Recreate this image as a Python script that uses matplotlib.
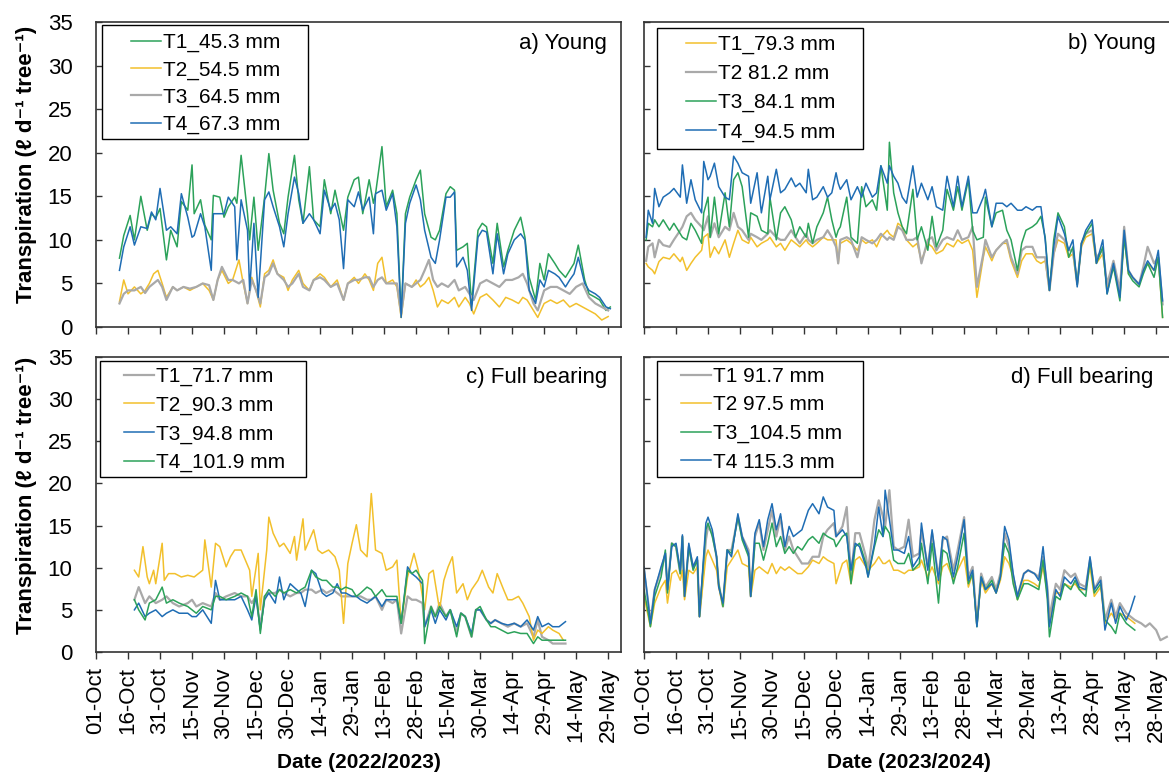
import numpy as np
import pandas as pd
import matplotlib
matplotlib.use("Agg")
import matplotlib.pyplot as plt
from matplotlib.patches import Rectangle

plt.rcParams['font.family'] = ['Liberation Sans', 'DejaVu Sans']

# ---- colours used in the original figure
GREEN = '#2ca25a'
YELLOW = '#f2c02c'
GREY = '#a9a9a9'
BLUE = '#1f6db4'

# ---------------- a) Young, 2022/2023 (days after 01-Oct-2022)
days_a14 = [11, 13, 16, 18, 21, 24, 26, 28, 30, 33, 35, 38, 40, 43, 45, 46, 49, 51, 54, 55,
            58, 60, 62, 65, 66, 68, 71, 72, 74, 76, 79, 81, 83, 86, 88, 90, 93, 95, 97, 100,
            102, 105, 107, 110, 112, 114, 116, 118, 121, 123, 125, 128, 130, 131, 134, 136, 139, 141, 143, 145,
            147, 150, 152, 154, 157, 159, 161, 164, 166, 168, 169, 172, 174, 176, 179, 181, 183, 186, 188, 191,
            193, 196, 199, 201, 203, 206, 208, 210, 212, 215, 217, 220, 222, 224, 226, 229, 231, 234, 236, 239, 241]
a_t1 = [7.9, 10.5, 12.8, 10.0, 15.0, 11.1, 13.0, 12.5, 13.6, 7.7, 11.1, 9.2, 14.4, 13.4, 18.6, 13.0, 14.6, 11.7, 10.0, 15.1,
        14.9, 12.6, 13.8, 14.9, 14.2, 19.7, 13.0, 10.0, 14.9, 8.8, 14.9, 19.9, 15.7, 11.9, 10.7, 14.9, 19.7, 14.6, 11.9, 18.4,
        12.3, 11.5, 16.9, 13.0, 15.7, 13.4, 11.1, 14.9, 16.9, 17.2, 13.0, 16.9, 14.2, 15.3, 20.7, 13.8, 15.7, 13.0, 1.1, 13.0,
        14.9, 16.9, 18.0, 13.0, 10.3, 10.0, 11.1, 15.3, 16.1, 15.7, 8.8, 9.2, 9.6, 2.6, 11.1, 11.9, 11.5, 7.3, 11.9, 6.9,
        8.8, 11.1, 12.6, 10.3, 5.7, 3.1, 7.3, 5.4, 8.4, 7.3, 6.5, 5.7, 6.5, 7.3, 9.4, 5.4, 3.8, 3.4, 3.1, 1.9, 2.3]
a_t4 = [6.5, 9.2, 11.5, 9.4, 11.5, 11.3, 13.2, 12.3, 15.9, 11.1, 11.5, 10.7, 15.3, 12.6, 10.3, 10.5, 13.0, 11.5, 6.5, 13.0,
        13.0, 13.0, 14.9, 13.8, 7.7, 14.6, 11.1, 4.2, 11.9, 3.4, 14.6, 15.5, 13.8, 11.5, 9.2, 13.0, 17.2, 15.3, 11.9, 13.0,
        12.3, 10.7, 15.7, 13.4, 14.2, 12.3, 6.7, 14.6, 13.8, 15.5, 13.4, 14.9, 10.7, 15.3, 15.7, 13.4, 15.3, 11.5, 1.1, 11.9,
        14.2, 16.3, 14.6, 11.1, 8.0, 7.3, 10.0, 14.9, 14.9, 15.5, 6.9, 8.0, 6.5, 1.9, 10.3, 11.1, 10.9, 6.1, 10.7, 6.1,
        8.4, 10.0, 10.7, 10.0, 4.2, 2.7, 5.4, 4.6, 6.5, 6.1, 5.7, 4.6, 5.4, 6.1, 8.0, 5.0, 4.2, 3.8, 3.4, 2.3, 2.1]
days_a23 = [11, 13, 15, 18, 21, 23, 25, 27, 29, 31, 33, 36, 38, 41, 44, 47, 50, 53, 55, 57,
            59, 62, 64, 67, 69, 71, 73, 75, 77, 79, 81, 83, 85, 88, 90, 92, 95, 97, 100, 102,
            105, 107, 110, 113, 116, 118, 121, 123, 126, 128, 130, 132, 134, 136, 139, 141, 143, 145, 148, 150,
            152, 154, 156, 158, 160, 162, 165, 168, 170, 173, 175, 177, 180, 183, 186, 189, 192, 195, 198, 200,
            202, 205, 207, 210, 213, 216, 219, 222, 225, 228, 231, 234, 237, 240]
a_t2 = [2.9, 5.4, 3.8, 4.6, 3.8, 4.2, 5.0, 6.1, 6.5, 5.0, 3.4, 4.6, 4.2, 4.6, 4.2, 4.6, 5.0, 4.2, 3.1, 5.4,
        6.5, 5.0, 5.4, 7.7, 5.0, 2.7, 5.7, 4.2, 2.3, 6.1, 6.5, 7.7, 6.1, 5.7, 4.2, 5.4, 6.5, 5.0, 4.2, 5.4,
        6.1, 5.7, 4.6, 5.4, 3.1, 5.0, 5.7, 5.0, 6.1, 5.4, 4.2, 7.3, 8.0, 5.0, 5.4, 4.6, 1.1, 5.0, 4.6, 5.4,
        4.6, 5.0, 5.7, 4.2, 2.3, 3.1, 2.7, 3.4, 2.3, 3.4, 2.7, 1.5, 3.4, 3.8, 3.1, 2.3, 3.4, 3.1, 2.7, 3.4,
        3.1, 1.9, 1.1, 2.7, 3.1, 2.7, 3.1, 2.3, 2.7, 2.3, 1.9, 1.5, 0.8, 1.2]
a_t3 = [2.7, 3.8, 4.2, 4.2, 4.6, 3.9, 4.6, 5.0, 5.4, 4.6, 3.1, 4.6, 4.2, 4.6, 4.4, 4.6, 5.0, 4.8, 3.1, 5.4,
        6.9, 5.4, 5.4, 5.0, 5.4, 2.7, 5.4, 4.2, 2.7, 5.7, 6.1, 7.3, 6.1, 5.4, 4.6, 5.0, 6.1, 4.6, 4.2, 5.4,
        5.7, 5.4, 4.6, 5.0, 3.1, 5.0, 5.4, 5.4, 5.7, 5.7, 4.6, 5.4, 5.7, 5.0, 5.0, 5.0, 1.5, 5.0, 4.6, 5.0,
        5.4, 6.5, 7.7, 5.4, 4.6, 5.0, 4.6, 5.4, 4.2, 4.6, 3.8, 3.1, 5.0, 5.4, 5.0, 4.6, 5.4, 5.4, 5.7, 6.1,
        5.0, 2.7, 1.9, 4.2, 4.6, 4.6, 4.2, 3.8, 4.6, 5.0, 3.4, 2.7, 2.3, 1.9]

# ---------------- b) Young, 2023/2024 (days after 01-Oct-2023)
days_b = [1, 2, 4, 5, 7, 9, 12, 14, 17, 18, 20, 22, 24, 27, 28, 30, 31, 33, 35, 38,
          40, 42, 44, 46, 49, 50, 53, 55, 58, 59, 62, 64, 66, 69, 71, 73, 76, 77, 79, 81,
          84, 86, 88, 90, 91, 92, 95, 97, 100, 102, 104, 107, 109, 111, 114, 115, 117, 119, 121, 123,
          126, 128, 130, 133, 135, 137, 140, 142, 145, 147, 149, 152, 154, 156, 159, 160, 163, 165, 168, 170,
          172, 175, 177, 179, 182, 184, 186, 188, 190, 192, 194, 197, 199, 201, 203, 205, 207, 210, 212, 215,
          217, 220, 223, 225, 227, 229, 232, 234, 236, 239, 241, 243]
b_t1 = [7.3, 6.9, 6.5, 6.1, 7.5, 8.0, 7.8, 8.4, 7.5, 8.0, 6.5, 7.3, 8.0, 8.8, 10.3, 10.7, 8.0, 9.2, 8.4, 10.0,
        8.0, 9.6, 11.1, 10.0, 9.6, 10.3, 9.2, 9.6, 10.0, 10.3, 9.2, 9.6, 8.8, 10.0, 9.6, 9.2, 10.0, 9.6, 9.2, 9.6,
        10.3, 10.0, 10.0, 10.0, 7.3, 9.6, 10.0, 9.6, 8.8, 10.0, 9.6, 10.0, 9.2, 10.3, 11.1, 10.7, 10.3, 11.9, 11.5, 10.0,
        9.2, 9.6, 7.6, 9.6, 9.2, 8.4, 8.8, 9.6, 9.2, 10.0, 9.6, 10.0, 8.8, 3.4, 8.0, 9.2, 7.6, 8.8, 9.6, 9.6,
        7.6, 5.7, 7.6, 8.4, 8.4, 7.6, 7.3, 7.6, 4.2, 8.4, 10.0, 9.6, 8.0, 8.4, 4.9, 9.2, 10.3, 10.7, 7.3, 8.4,
        4.6, 6.9, 3.8, 10.3, 6.1, 5.7, 4.9, 6.5, 7.3, 6.5, 8.0, 1.1]
b_t2 = [7.6, 9.2, 9.6, 8.0, 10.0, 9.4, 9.2, 10.0, 11.1, 11.5, 12.7, 13.1, 12.3, 11.5, 11.1, 12.7, 10.3, 11.9, 10.3, 11.5,
        11.1, 13.1, 11.5, 11.1, 10.0, 10.7, 10.3, 10.0, 10.7, 11.1, 10.3, 10.0, 10.0, 11.1, 10.3, 9.6, 10.7, 10.0, 9.6, 10.0,
        10.3, 11.1, 10.3, 9.2, 7.3, 10.0, 10.3, 10.0, 8.0, 10.3, 10.0, 9.6, 10.0, 10.7, 10.0, 10.3, 10.0, 11.5, 11.1, 10.0,
        10.0, 10.3, 7.3, 10.0, 10.3, 8.8, 10.0, 10.3, 10.0, 11.1, 10.0, 10.3, 11.5, 4.6, 8.4, 10.0, 8.0, 8.8, 9.6, 10.0,
        8.0, 6.1, 8.8, 9.2, 9.2, 8.0, 8.0, 8.0, 4.2, 8.4, 10.7, 10.0, 8.8, 8.8, 4.9, 9.6, 10.7, 11.1, 8.0, 8.8,
        4.9, 7.6, 4.2, 11.5, 6.5, 5.7, 4.9, 6.9, 9.2, 7.3, 8.0, 2.6]
b_t3 = [10.0, 11.9, 11.5, 12.3, 11.5, 12.3, 11.1, 11.9, 10.7, 10.3, 10.0, 11.9, 11.1, 9.6, 13.1, 14.9, 10.3, 14.9, 10.7, 15.4,
        11.5, 16.9, 17.7, 16.1, 10.3, 13.1, 12.7, 11.1, 10.7, 14.9, 10.0, 13.1, 13.8, 12.3, 10.3, 11.5, 10.3, 11.9, 9.6, 11.5,
        13.1, 14.9, 12.3, 10.3, 11.1, 11.5, 14.9, 10.3, 9.6, 16.1, 13.8, 14.6, 13.4, 18.5, 13.4, 21.2, 15.4, 13.1, 11.5, 10.7,
        15.8, 10.0, 11.5, 8.8, 12.7, 9.2, 11.1, 15.8, 13.4, 16.1, 13.4, 16.9, 11.1, 10.0, 10.3, 14.9, 11.5, 13.1, 13.4, 11.1,
        10.0, 6.5, 9.6, 11.1, 11.5, 11.9, 12.7, 10.3, 4.2, 10.0, 13.1, 11.5, 8.0, 9.2, 4.9, 9.6, 10.7, 11.9, 7.3, 9.2,
        3.8, 6.9, 3.0, 10.3, 6.1, 5.3, 4.6, 6.1, 7.3, 5.7, 8.0, 1.1]
b_t4 = [10.3, 13.4, 11.9, 15.9, 13.8, 14.9, 15.4, 15.9, 14.9, 18.6, 14.2, 16.9, 14.6, 13.1, 19.0, 16.9, 17.3, 18.8, 16.1, 14.9,
        14.6, 19.6, 18.8, 17.7, 17.3, 14.2, 17.7, 13.1, 17.3, 14.6, 18.1, 15.4, 15.8, 17.1, 16.1, 16.5, 15.4, 18.1, 14.6, 14.9,
        16.1, 14.9, 15.4, 17.7, 16.5, 15.8, 16.9, 14.6, 16.1, 14.9, 16.5, 14.9, 15.4, 18.5, 16.5, 18.5, 17.3, 16.5, 14.9, 14.2,
        18.5, 14.9, 16.5, 14.6, 16.1, 13.8, 13.4, 17.3, 13.8, 17.3, 13.8, 17.3, 13.1, 13.1, 14.9, 15.8, 11.5, 14.2, 14.2, 13.8,
        14.2, 13.4, 13.4, 13.8, 13.4, 13.8, 13.8, 10.0, 4.2, 9.2, 12.7, 10.7, 8.8, 10.0, 4.6, 9.6, 11.1, 12.3, 7.3, 10.0,
        3.8, 7.3, 3.4, 11.1, 6.5, 5.7, 4.9, 6.5, 7.6, 6.5, 8.8, 3.0]

# ---------------- c) Full bearing, 2022/2023
days_c = [18, 20, 23, 25, 28, 31, 33, 36, 39, 43, 45, 47, 50, 54, 56, 58, 61, 65, 68, 71,
          73, 75, 77, 79, 81, 84, 86, 88, 91, 94, 96, 98, 101, 103, 106, 108, 111, 113, 115, 117,
          120, 122, 124, 127, 129, 131, 134, 136, 139, 141, 143, 146, 148, 150, 153, 154, 157, 159, 161, 164,
          166, 169, 171, 173, 176, 178, 180, 183, 185, 187, 190, 193, 196, 199, 202, 205, 207, 209, 212, 214,
          217, 220]
c_t1 = [6.2, 7.7, 5.8, 6.6, 5.8, 6.2, 6.6, 5.8, 5.4, 5.8, 6.2, 5.4, 5.8, 5.4, 7.0, 6.2, 6.6, 7.0, 6.6, 6.6,
        5.8, 6.6, 3.0, 6.6, 7.0, 7.0, 7.4, 7.0, 6.6, 7.0, 7.0, 7.4, 7.4, 7.0, 7.4, 7.0, 7.4, 7.0, 6.6, 6.6,
        6.6, 6.6, 6.6, 6.2, 6.2, 6.6, 5.0, 6.2, 5.8, 6.2, 2.2, 6.6, 6.2, 6.2, 5.8, 3.0, 5.4, 4.2, 5.8, 4.2,
        5.0, 2.2, 4.6, 4.2, 1.8, 5.0, 5.0, 3.8, 3.4, 3.8, 3.4, 3.0, 3.4, 3.0, 3.4, 1.8, 3.8, 1.8, 1.4, 1.0,
        1.0, 1.0]
c_t3 = [5.0, 5.8, 4.2, 4.6, 5.0, 4.2, 4.6, 5.0, 4.6, 4.6, 4.2, 4.2, 5.0, 3.4, 8.5, 6.2, 6.2, 6.2, 6.6, 5.0,
        3.8, 6.6, 2.6, 6.2, 7.0, 5.8, 8.9, 6.2, 8.1, 7.4, 7.0, 5.4, 9.7, 9.3, 7.0, 6.6, 7.0, 8.1, 7.0, 7.0,
        6.6, 6.6, 6.2, 5.8, 6.2, 6.6, 5.4, 6.2, 6.2, 6.2, 3.4, 10.1, 9.3, 8.9, 8.1, 3.0, 5.0, 3.4, 5.0, 3.8,
        5.0, 3.0, 4.6, 4.2, 2.2, 5.0, 5.0, 3.8, 3.4, 3.8, 3.4, 3.2, 3.4, 3.0, 3.8, 2.6, 4.2, 3.0, 3.4, 3.0,
        3.0, 3.6]
c_t4 = [6.2, 5.0, 3.8, 5.8, 6.2, 7.7, 5.8, 6.2, 5.8, 5.4, 5.0, 4.6, 5.4, 5.0, 6.6, 6.6, 6.2, 6.6, 7.0, 6.6,
        4.2, 7.4, 2.2, 6.6, 7.4, 6.6, 7.4, 7.0, 7.4, 7.0, 7.4, 7.7, 9.7, 8.9, 8.5, 8.5, 7.7, 7.7, 7.4, 7.7,
        7.4, 6.6, 7.0, 7.7, 7.4, 6.6, 7.4, 6.6, 6.6, 6.6, 3.4, 9.7, 9.3, 9.7, 8.5, 1.0, 5.4, 4.2, 5.4, 4.2,
        5.0, 1.8, 4.6, 4.2, 1.8, 5.0, 5.4, 3.8, 3.0, 3.0, 2.6, 2.2, 2.4, 2.2, 2.2, 1.0, 1.8, 1.4, 1.4, 1.4,
        1.4, 1.4]
days_c2 = [18, 20, 22, 24, 25, 27, 28, 31, 32, 34, 37, 40, 43, 46, 50, 51, 54, 56, 58, 61,
           63, 65, 68, 72, 73, 76, 77, 80, 81, 83, 86, 88, 91, 93, 94, 97, 98, 102, 104, 106,
           109, 112, 114, 116, 118, 120, 122, 124, 127, 129, 131, 134, 136, 139, 141, 143, 146, 149, 151, 154,
           156, 158, 161, 163, 165, 167, 169, 172, 174, 176, 179, 181, 184, 186, 188, 191, 193, 195, 198, 200,
           203, 205, 207, 209, 212, 214, 217, 219]
c_t2 = [9.7, 8.9, 12.5, 8.9, 8.1, 9.7, 8.1, 12.9, 8.5, 9.3, 9.3, 8.9, 9.1, 8.9, 9.7, 13.3, 7.7, 12.9, 12.5, 10.1,
        11.3, 12.1, 12.1, 9.7, 6.6, 11.7, 5.0, 12.1, 16.0, 14.1, 12.5, 12.9, 11.7, 13.7, 10.9, 15.8, 12.1, 14.5, 12.1, 11.7,
        12.1, 11.3, 9.7, 3.4, 10.5, 12.9, 15.1, 12.1, 11.3, 18.8, 12.1, 11.7, 9.7, 10.1, 10.9, 3.4, 8.9, 11.7, 9.7, 5.0,
        9.3, 9.7, 5.0, 8.5, 10.1, 11.3, 7.0, 8.1, 6.2, 7.4, 8.5, 9.7, 7.7, 7.0, 9.3, 7.4, 6.2, 6.2, 6.6, 5.8,
        4.2, 1.4, 2.6, 2.2, 3.0, 2.6, 2.2, 1.4]

# ---------------- d) Full bearing, 2023/2024
days_d = [0, 2, 3, 5, 8, 10, 11, 13, 15, 17, 18, 19, 21, 23, 25, 26, 29, 30, 32, 34,
          35, 37, 39, 41, 44, 46, 49, 50, 52, 54, 56, 58, 60, 62, 64, 66, 68, 70, 72, 74,
          77, 79, 82, 84, 86, 89, 90, 93, 95, 97, 99, 101, 104, 105, 108, 110, 112, 113, 115, 117,
          119, 122, 124, 126, 129, 130, 133, 135, 138, 140, 142, 145, 147, 150, 152, 154, 156, 158, 160, 163,
          165, 167, 169, 171, 173, 175, 178, 180, 183, 185, 187, 189, 190, 193, 195, 197, 200, 202, 204, 207,
          209, 211, 214, 216, 219, 221, 223, 226, 228, 230]
d_t1 = [9.7, 5.8, 3.4, 7.4, 9.7, 11.7, 7.4, 12.9, 12.5, 9.3, 13.7, 6.6, 12.5, 10.1, 10.9, 4.2, 13.3, 14.9, 14.1, 11.3,
        8.1, 5.4, 12.1, 12.1, 16.0, 13.7, 12.1, 6.6, 13.7, 15.3, 12.1, 14.5, 16.8, 13.7, 16.0, 12.1, 13.7, 12.1, 11.3, 10.5,
        10.5, 11.3, 11.3, 13.7, 14.5, 15.3, 13.7, 14.9, 17.2, 8.9, 14.1, 14.1, 11.3, 9.7, 15.7, 18.0, 16.0, 14.9, 19.2, 12.5,
        12.1, 12.5, 15.7, 11.3, 11.7, 14.5, 10.1, 14.1, 8.9, 13.3, 13.7, 9.7, 12.1, 16.0, 8.9, 10.1, 3.4, 9.3, 7.7, 8.9,
        7.4, 9.3, 14.1, 12.5, 8.9, 6.6, 9.3, 9.7, 9.3, 8.9, 11.3, 7.7, 4.2, 8.1, 7.4, 9.7, 8.9, 9.3, 8.1, 7.7,
        10.9, 7.4, 8.9, 3.8, 6.2, 4.2, 5.8, 4.6, 4.2, 3.8, 3.4, 3.0, 3.4, 2.6, 1.4, 1.8]
days_d1 = days_d + [233, 235, 237, 240, 242, 245]
d_t2 = [6.6, 4.2, 3.0, 5.8, 7.7, 8.5, 5.8, 9.3, 9.7, 8.5, 9.7, 6.2, 9.7, 9.3, 10.1, 4.2, 11.3, 12.1, 10.9, 9.7,
        7.7, 5.4, 10.1, 10.9, 12.1, 10.5, 10.1, 6.6, 9.7, 10.1, 9.7, 9.3, 10.5, 9.3, 10.1, 9.7, 10.1, 9.7, 9.3, 9.3,
        10.1, 10.9, 10.5, 11.3, 10.9, 10.5, 8.1, 10.5, 10.9, 8.1, 10.9, 11.3, 10.1, 9.7, 10.5, 11.3, 10.5, 10.5, 10.9, 9.7,
        9.7, 9.3, 9.7, 9.7, 10.1, 10.9, 8.9, 10.1, 8.1, 10.1, 10.5, 8.5, 9.7, 11.3, 7.7, 9.3, 3.4, 8.5, 7.0, 8.1,
        7.0, 8.5, 11.3, 10.5, 8.9, 6.2, 8.5, 8.5, 8.1, 7.7, 10.1, 7.0, 3.4, 7.0, 7.0, 8.1, 7.7, 8.1, 7.4, 7.4,
        10.1, 6.6, 7.7, 3.4, 4.6, 3.8, 4.6, 4.2, 3.8, 3.4]
d_t3 = [7.4, 4.6, 3.0, 6.6, 8.9, 12.1, 7.0, 12.9, 12.5, 9.3, 13.7, 6.6, 12.5, 9.7, 10.9, 4.2, 14.5, 15.3, 13.7, 11.3,
        8.1, 5.4, 12.1, 11.7, 16.0, 13.3, 11.3, 6.6, 12.9, 12.9, 10.9, 12.9, 15.3, 12.5, 13.7, 11.7, 12.5, 11.7, 12.5, 12.1,
        13.3, 13.7, 12.9, 14.1, 13.7, 13.3, 12.5, 13.7, 14.1, 8.1, 12.5, 12.9, 10.5, 8.9, 12.5, 14.5, 13.7, 14.9, 14.1, 10.9,
        10.5, 10.5, 11.7, 9.7, 10.5, 12.9, 8.1, 12.9, 5.8, 12.1, 11.7, 8.1, 10.1, 14.1, 8.1, 9.3, 3.0, 8.9, 7.4, 8.5,
        7.0, 8.9, 12.9, 11.7, 8.1, 6.2, 8.1, 8.1, 7.7, 7.4, 10.9, 6.2, 1.8, 6.6, 6.2, 8.1, 7.4, 8.5, 7.4, 6.6,
        10.9, 7.0, 8.1, 3.8, 3.0, 2.2, 4.6, 3.4, 3.0, 2.6]
d_t4 = [10.1, 5.8, 3.4, 7.4, 10.1, 11.7, 7.4, 12.5, 12.9, 9.7, 13.9, 6.6, 12.9, 10.1, 11.3, 4.2, 15.3, 16.0, 14.5, 11.3,
        7.7, 5.8, 12.1, 11.3, 16.4, 13.7, 11.7, 6.6, 14.1, 15.7, 12.5, 15.7, 17.6, 14.5, 16.4, 12.5, 14.9, 13.7, 14.1, 14.5,
        16.8, 17.6, 16.4, 18.4, 17.2, 16.8, 13.7, 14.5, 13.7, 9.7, 12.9, 12.5, 10.1, 8.9, 12.9, 17.2, 13.7, 19.2, 15.7, 12.1,
        12.1, 11.7, 13.7, 10.1, 11.3, 15.3, 9.7, 14.5, 8.5, 13.7, 13.3, 8.9, 11.3, 15.7, 8.5, 9.7, 3.0, 8.9, 7.4, 8.1,
        7.0, 8.9, 14.9, 13.3, 9.3, 6.6, 9.3, 9.7, 9.3, 8.5, 12.5, 7.4, 3.0, 7.4, 6.6, 8.9, 8.1, 8.9, 7.7, 7.4,
        11.3, 7.4, 8.5, 2.6, 5.8, 3.4, 5.4, 3.8, 5.0, 6.6]

# panel definitions: (x values, y values, colour, width, label)
panels = [
    dict(start='2022-10-01', text='a) Young', series=[
        (days_a14, a_t1, GREEN, 1.1, 'T1_45.3 mm'),
        (days_a23, a_t2, YELLOW, 1.1, 'T2_54.5 mm'),
        (days_a23, a_t3, GREY, 1.6, 'T3_64.5 mm'),
        (days_a14, a_t4, BLUE, 1.1, 'T4_67.3 mm')]),
    dict(start='2023-10-01', text='b) Young', series=[
        (days_b, b_t1, YELLOW, 1.1, 'T1_79.3 mm'),
        (days_b, b_t2, GREY, 1.6, 'T2 81.2 mm'),
        (days_b, b_t3, GREEN, 1.1, 'T3_84.1 mm'),
        (days_b, b_t4, BLUE, 1.1, 'T4_94.5 mm')]),
    dict(start='2022-10-01', text='c) Full bearing', series=[
        (days_c, c_t1, GREY, 1.6, 'T1_71.7 mm'),
        (days_c2, c_t2, YELLOW, 1.1, 'T2_90.3 mm'),
        (days_c, c_t3, BLUE, 1.1, 'T3_94.8 mm'),
        (days_c, c_t4, GREEN, 1.1, 'T4_101.9 mm')]),
    dict(start='2023-10-01', text='d) Full bearing', series=[
        (days_d1, d_t1, GREY, 1.6, 'T1 91.7 mm'),
        (days_d, d_t2, YELLOW, 1.1, 'T2 97.5 mm'),
        (days_d, d_t3, GREEN, 1.1, 'T3_104.5 mm'),
        (days_d, d_t4, BLUE, 1.1, 'T4 115.3 mm')]),
]

W, H = 1169, 773
fig = plt.figure(figsize=(W / 100, H / 100), dpi=100)

# axes boxes in pixels: left, top, right, bottom
boxes = [(96, 22, 621, 327), (644, 22, 1173, 327),
         (96, 357, 621, 652), (644, 357, 1173, 652)]
# legend layout in pixels from the axes' top-left corner:
# frame left, frame top, frame width, frame height, line start, first row centre, row pitch
legend_px = [(6, 3, 206, 114, 35, 19, 27.7),
             (13, 6, 206, 121, 42, 21, 29.5),
             (4, 4, 206, 116, 28, 18, 29.0),
             (13, 4, 206, 116, 37, 18, 29.0)]
label_x = [0.973, 0.967, 0.973, 0.963]
px_per_day = 2.134
LEG_FS = 15
fs_px = LEG_FS * 100 / 72

tick_days = list(range(0, 241, 15))
YLAB = 'Transpiration (\u2113 d\u207b\u00b9 tree\u207b\u00b9)'

for i, (p, (l, t, r, b)) in enumerate(zip(panels, boxes)):
    aw, ah = r - l, b - t
    ax = fig.add_axes([l / W, 1 - b / H, aw / W, ah / H])
    for xs, ys, col, lw, lab in p['series']:
        ax.plot(xs, ys, color=col, lw=lw, label=lab)
    ax.set_xlim(0, aw / px_per_day)
    ax.set_ylim(0, 35)
    ax.set_yticks(range(0, 36, 5))

    start = pd.Timestamp(p['start'])
    ax.set_xticks(tick_days)
    ax.set_xticklabels([(start + pd.Timedelta(days=d)).strftime('%d-%b') for d in tick_days],
                       rotation=90, fontsize=16)
    ax.tick_params(axis='x', direction='out', length=5, width=1, color='#333333', pad=6)
    left = (i % 2 == 0)
    ax.tick_params(axis='y', direction='in', length=4.5, width=1, color='#333333',
                   labelsize=16, pad=17, labelleft=left)
    if left:
        ax.set_ylabel(YLAB, fontsize=16, fontweight='bold')
        ax.yaxis.set_label_coords(-0.112, 0.532)
    if i < 2:
        ax.tick_params(axis='x', labelbottom=False)
    else:
        year = '2022/2023' if left else '2023/2024'
        ax.set_xlabel('Date (%s)' % year, fontsize=15, fontweight='bold', labelpad=8)

    for s in ax.spines.values():
        s.set_color('#333333')
        s.set_linewidth(1.2)

    ax.text(label_x[i], 0.931, p['text'], transform=ax.transAxes, ha='right', va='center', fontsize=16)

    # Excel-style legend: wide frame, entries set in from the left
    fx, fy, fw, fh, hx, row1, pitch = legend_px[i]
    frame = Rectangle((fx / aw, 1 - (fy + fh) / ah), fw / aw, fh / ah, transform=ax.transAxes,
                      facecolor='white', edgecolor='black', lw=1.0, zorder=4)
    ax.add_patch(frame)
    row_h = 0.94 * fs_px
    spacing = (pitch - row_h) / fs_px
    top = row1 - 8
    leg = ax.legend(loc='upper left', bbox_to_anchor=(hx / aw, 1 - top / ah), fontsize=LEG_FS,
                    frameon=False, borderaxespad=0, borderpad=0, handlelength=1.45,
                    handletextpad=0.1, labelspacing=spacing)
    leg.set_zorder(5)

fig.savefig('out.png', dpi=100)
